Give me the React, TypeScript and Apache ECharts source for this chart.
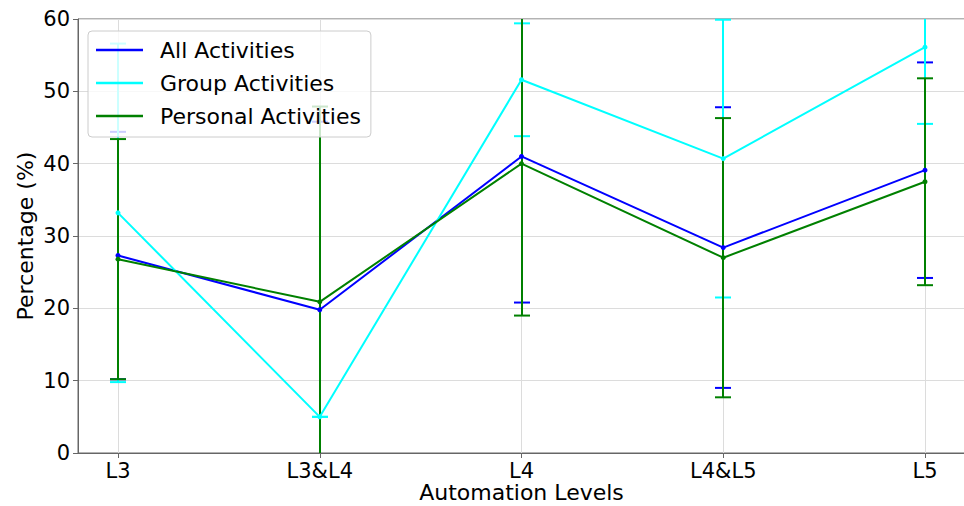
import React, { useEffect, useRef } from "react";
import * as echarts from "echarts";

const categories = ["L3", "L3&L4", "L4", "L4&L5", "L5"];
const yTicks = [0, 10, 20, 30, 40, 50, 60];

const allMean = [27.3, 19.8, 41.0, 28.4, 39.1];
const allErr = [17.1, 26.0, 20.2, 19.4, 14.9];
const groupMean = [33.2, 5.0, 51.6, 40.7, 56.1];
const groupErr = [23.4, 0, 7.8, 19.2, 10.6];
const personalMean = [26.8, 20.9, 40.0, 27.0, 37.5];
const personalErr = [16.6, 27.0, 21.0, 19.3, 14.3];

const seriesDefs = [
  { name: "All Activities", color: "#0000ff", mean: allMean, err: allErr },
  { name: "Group Activities", color: "#00ffff", mean: groupMean, err: groupErr },
  { name: "Personal Activities", color: "#008000", mean: personalMean, err: personalErr },
];

const FONT = "DejaVu Sans";
const Y_MIN = yTicks[0];
const Y_MAX = yTicks[yTicks.length - 1];

export default function App() {
  const ref = useRef<HTMLDivElement>(null);
  useEffect(() => {
    document.body.style.margin = "0";
    if (!ref.current) return;
    const chart = echarts.init(ref.current, undefined, { renderer: "svg" });
    const series: any[] = [];
    seriesDefs.forEach((d) => {
      series.push({
        type: "line",
        name: d.name,
        xAxisIndex: 1,
        yAxisIndex: 1,
        data: d.mean.map((v, i) => [i, v]),
        lineStyle: { color: d.color, width: 2 },
        itemStyle: { color: d.color },
        symbol: "circle",
        symbolSize: 5,
        showSymbol: true,
        silent: true,
      });
      series.push({
        type: "custom",
        name: d.name + " err",
        xAxisIndex: 1,
        yAxisIndex: 1,
        silent: true,
        encode: { x: 0, y: [1, 2] },
        data: d.mean.map((v, i) => [i, v - d.err[i], v + d.err[i]]),
        renderItem: (params: any, api: any) => {
          const x = api.value(0);
          const lo = api.value(1);
          const hi = api.value(2);
          const loC = Math.max(lo, Y_MIN);
          const hiC = Math.min(hi, Y_MAX);
          const p1 = api.coord([x, loC]);
          const p2 = api.coord([x, hiC]);
          const cx = Math.round(p1[0]);
          const st = { stroke: d.color, lineWidth: 2 };
          const children: any[] = [
            { type: "line", shape: { x1: cx, y1: p1[1], x2: cx, y2: p2[1] }, style: st },
          ];
          const half = 8;
          if (lo >= Y_MIN - 0.01) {
            const c = api.coord([x, lo]);
            children.push({ type: "line", shape: { x1: cx - half, y1: c[1], x2: cx + half, y2: c[1] }, style: st });
          }
          if (hi <= Y_MAX + 0.05) {
            const c = api.coord([x, hi]);
            children.push({ type: "line", shape: { x1: cx - half, y1: c[1], x2: cx + half, y2: c[1] }, style: st });
          }
          return { type: "group", children };
        },
      });
    });

    const option: any = {
      animation: false,
      textStyle: { fontFamily: FONT },
      grid: [
        { left: 78, right: -1, top: 19, bottom: 53, show: true, borderColor: "#666", borderWidth: 1, backgroundColor: "transparent", containLabel: false, outerBoundsMode: "none" },
        { left: 118, right: 39, top: 19, bottom: 53, containLabel: false, outerBoundsMode: "none" },
      ],
      xAxis: [
        {
          gridIndex: 0,
          type: "value",
          min: 0,
          max: 1,
          axisLine: { show: true, lineStyle: { color: "#666", width: 1 } },
          axisTick: { show: false },
          axisLabel: { show: false },
          splitLine: { show: false },
        },
        {
          gridIndex: 1,
          type: "value",
          min: 0,
          max: categories.length - 1,
          interval: 1,
          name: "Automation Levels",
          nameLocation: "middle",
          nameMoveOverlap: false,
          nameGap: 28,
          nameTextStyle: { fontSize: 22, lineHeight: 22, color: "#000", fontFamily: FONT },
          axisLine: { show: false },
          axisTick: { show: true, length: 5, lineStyle: { color: "#666" } },
          axisLabel: {
            fontSize: 21,
            lineHeight: 21,
            color: "#000",
            fontFamily: FONT,
            margin: 7,
            formatter: (v: number) => categories[Math.round(v)] ?? "",
          },
          splitLine: { show: true, lineStyle: { color: "#dcdcdc", width: 1 } },
        },
      ],
      yAxis: [
        {
          gridIndex: 0,
          type: "value",
          min: Y_MIN,
          max: Y_MAX,
          interval: 10,
          name: "Percentage (%)",
          nameLocation: "middle",
          nameMoveOverlap: false,
          nameGap: 42,
          nameTextStyle: { fontSize: 22, color: "#000", fontFamily: FONT },
          axisLine: { show: true, lineStyle: { color: "#666", width: 1 } },
          axisTick: { show: true, length: 5, lineStyle: { color: "#666" } },
          axisLabel: { fontSize: 21, color: "#000", fontFamily: FONT, margin: 8 },
          splitLine: { show: true, lineStyle: { color: "#dcdcdc", width: 1 } },
        },
        {
          gridIndex: 1,
          type: "value",
          min: Y_MIN,
          max: Y_MAX,
          show: false,
        },
      ],
      legend: {
        data: seriesDefs.map((d) => d.name),
        orient: "vertical",
        left: 88,
        top: 31,
        padding: [8, 10, 10, 8],
        itemGap: 11,
        itemWidth: 47,
        itemHeight: 2.5,
        icon: "rect",
        backgroundColor: "rgba(255,255,255,0.8)",
        borderColor: "#cccccc",
        borderWidth: 1,
        borderRadius: 4,
        textStyle: { fontSize: 22, color: "#000", fontFamily: FONT, padding: [0, 0, 0, 12] },
        selectedMode: false,
      },
      series,
    };
    chart.setOption(option);
    return () => chart.dispose();
  }, []);
  return <div ref={ref} style={{ width: 964, height: 506 }} />;
}
